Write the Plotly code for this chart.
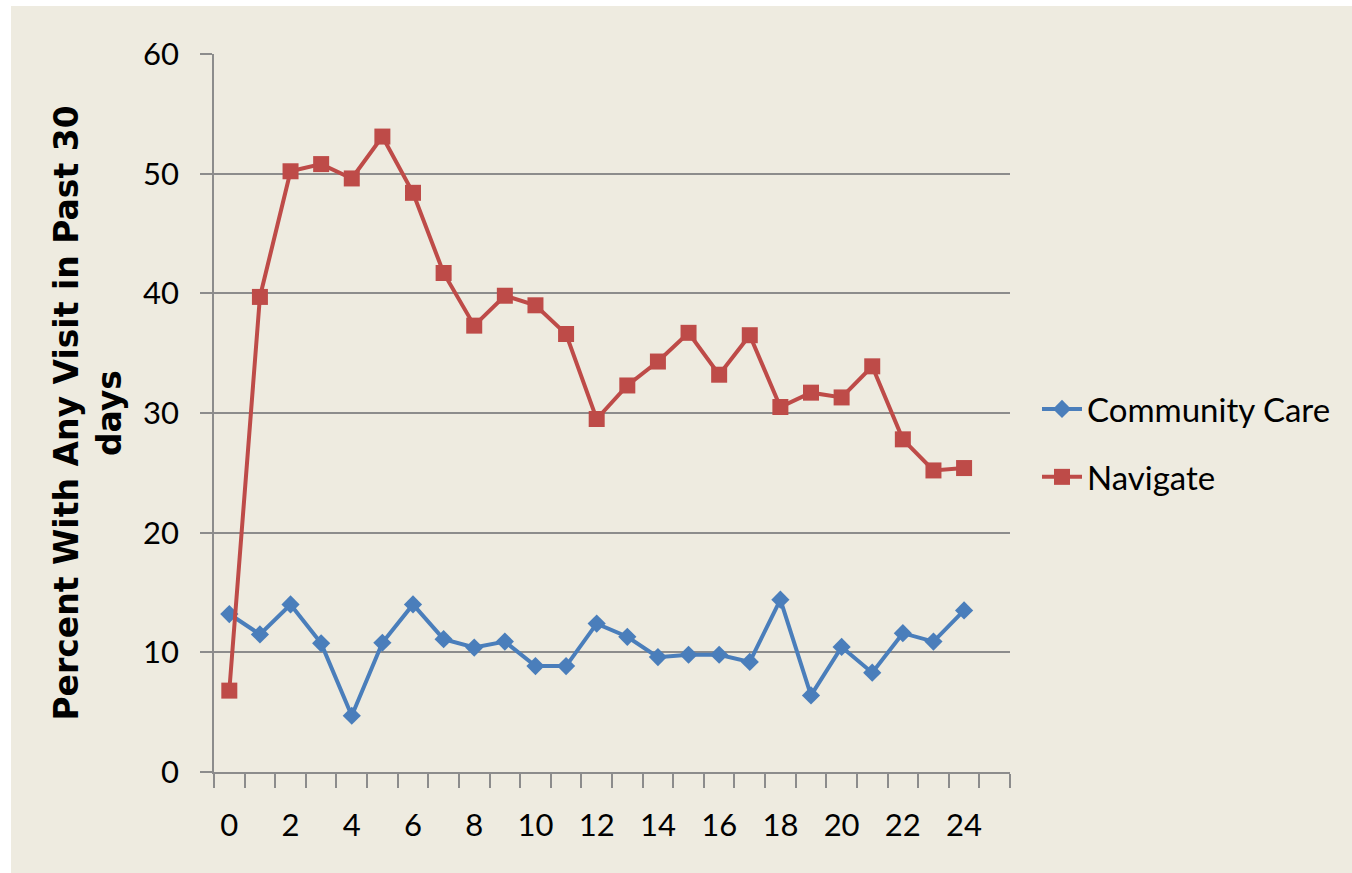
import plotly.graph_objects as go

months = list(range(25))
community_care = [13.2, 11.5, 14.0, 10.75, 4.7, 10.8, 14.0, 11.1, 10.4, 10.9, 8.85, 8.85, 12.4,
                  11.3, 9.6, 9.8, 9.8, 9.2, 14.4, 6.4, 10.45, 8.3, 11.6, 10.9, 13.5]
navigate = [6.8, 39.7, 50.2, 50.8, 49.6, 53.1, 48.4, 41.7, 37.3, 39.8, 39.0, 36.6, 29.5,
            32.3, 34.3, 36.7, 33.2, 36.5, 30.5, 31.7, 31.3, 33.9, 27.8, 25.2, 25.4]
x_tick_labels = [str(v) for v in range(0, 25, 2)]
y_tick_values = [0, 10, 20, 30, 40, 50, 60]

BG = "#EEEBE0"
GRID = "#8C8C8C"
FONT = "Lato, 'Open Sans', sans-serif"

fig = go.Figure()
fig.add_trace(go.Scatter(
    x=months, y=community_care, name="Community Care", mode="lines+markers",
    line=dict(color="#4A7EBB", width=4),
    marker=dict(symbol="diamond", size=14, color="#4A7EBB"),
    legendgroup="a",
))
fig.add_trace(go.Scatter(
    x=months, y=navigate, name="Navigate", mode="lines+markers",
    line=dict(color="#BE4B48", width=4),
    marker=dict(symbol="square", size=16, color="#BE4B48"),
    legendgroup="b",
))

L, R, T, B = 214, 342, 54, 101
W, H = 1352, 873
pw, ph = W - L - R, H - T - B

fig.update_layout(
    width=W, height=H,
    margin=dict(l=L, r=R, t=T, b=B),
    paper_bgcolor=BG, plot_bgcolor=BG,
    font=dict(family=FONT, size=31, color="#000000"),
    showlegend=True,
    legend=dict(
        x=(1037 - L) / pw, xanchor="left",
        y=(T + ph - 443) / ph, yanchor="middle",
        bgcolor="rgba(0,0,0,0)", font=dict(size=33),
        tracegroupgap=22, itemwidth=40,
    ),
    xaxis=dict(
        range=[-0.5, 25.5], showgrid=False, zeroline=False,
        showline=True, linecolor=GRID, linewidth=1.5,
        tickmode="array", tickvals=list(range(0, 25, 2)), ticktext=x_tick_labels,
        ticks="outside", ticklen=25, tickcolor="rgba(0,0,0,0)",
        minor=dict(tickmode="array", tickvals=[i - 0.5 for i in range(27)],
                   ticks="outside", ticklen=14, tickcolor=GRID, tickwidth=1.5, showgrid=False),
        tickfont=dict(size=31),
    ),
    yaxis=dict(
        range=[0, 60], tickmode="array", tickvals=y_tick_values,
        showgrid=True, gridcolor=GRID, gridwidth=1.5, zeroline=False,
        showline=True, linecolor=GRID, linewidth=1.5,
        ticks="outside", ticklen=12, tickcolor=GRID, tickwidth=1.5,
        tickfont=dict(size=31),
        ticklabelstandoff=15,
        title=dict(text="Percent With Any Visit in Past 30<br>days",
                   font=dict(size=33, family="'DejaVu Sans', sans-serif", weight="bold"),
                   standoff=12),
    ),
    shapes=[
        dict(type="rect", xref="paper", yref="paper", layer="below",
             x0=-L / pw, x1=(11 - L) / pw, y0=-B / ph, y1=1 + T / ph,
             fillcolor="white", line=dict(width=0)),
        dict(type="rect", xref="paper", yref="paper", layer="below",
             x0=-L / pw, x1=1 + R / pw, y0=1 + (T - 6) / ph, y1=1 + T / ph,
             fillcolor="white", line=dict(width=0)),
    ],
)

fig.write_html("out.html", config={"displayModeBar": False},
               post_script="document.body.style.margin='0';")
